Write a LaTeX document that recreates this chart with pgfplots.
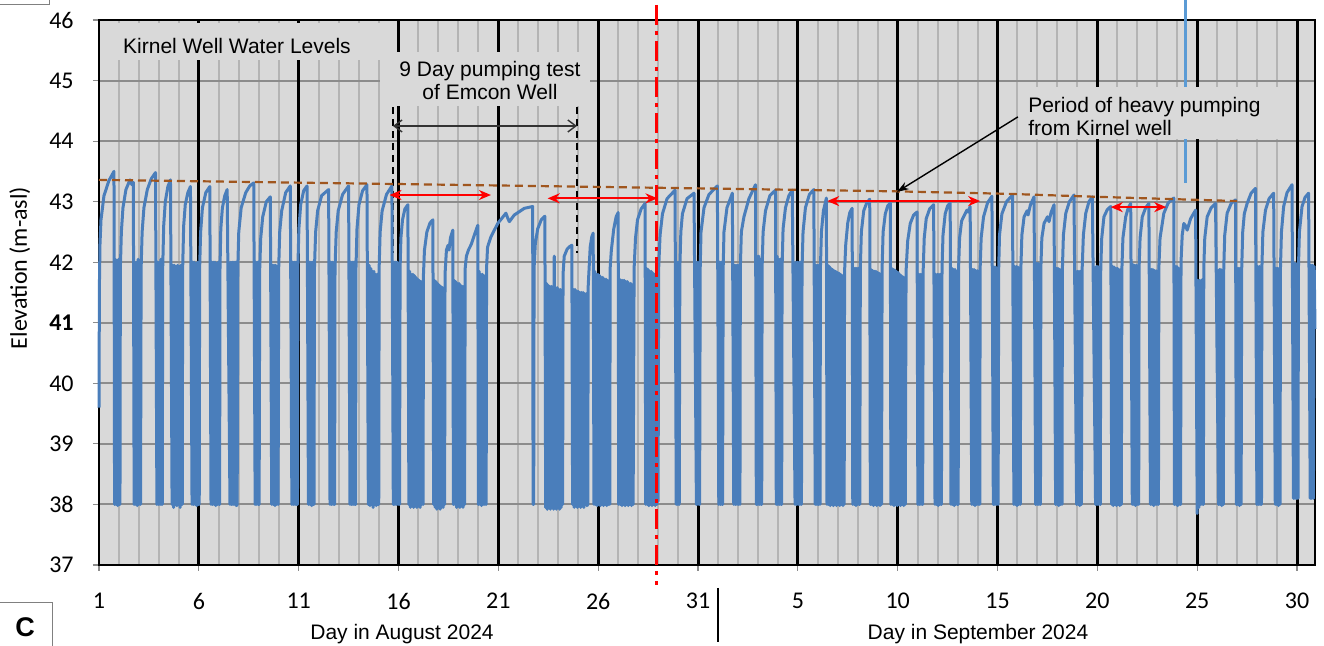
\documentclass[border=0pt]{standalone}
\usepackage{fontspec}
\setmainfont{Liberation Sans}
\newfontfamily\calfont{Carlito}
\usepackage{pgfplots}
\pgfplotsset{compat=1.18}
\usetikzlibrary{arrows.meta}
\definecolor{bgc}{HTML}{D9D9D9}
\definecolor{hgrid}{HTML}{8C8C8C}
\definecolor{vgrid}{HTML}{B4B4B4}
\definecolor{wblue}{HTML}{4A7EBB}
\definecolor{lblue}{HTML}{5B9BD5}
\definecolor{trend}{HTML}{A0561E}
\begin{document}
\begin{tikzpicture}
\path[use as bounding box] (0,0) rectangle (662pt,323pt);
\begin{axis}[
  at={(49.5pt,40.5pt)}, anchor=south west,
  scale only axis, width=608pt, height=272.5pt,
  xmin=1, xmax=61.9, ymin=37, ymax=46,
  axis background/.style={fill=bgc},
  axis line style={black, line width=1.2pt},
  xtick={1,6,...,61},
  xticklabels={1,6,11,16,21,26,31,5,10,15,20,25,30},
  ytick={37,...,46},
  yticklabels={37,38,39,40,\textbf{41},42,43,44,45,46},
  minor x tick num=4,
  xminorgrids=true, ymajorgrids=true,
  minor grid style={vgrid, line width=1pt},
  major grid style={hgrid, line width=1pt},
  extra x ticks={6,11,...,61},
  extra x tick labels={},
  extra x tick style={grid=major, major grid style={black, line width=1.5pt}, major tick length=0pt},
  tick align=outside, tick pos=left,
  major tick length=3pt, minor tick length=0pt,
  tick style={hgrid, line width=0.6pt},
  ticklabel style={font=\calfont\fontsize{12}{14}\selectfont, inner sep=0pt},
  /pgf/number format/assume math mode=true,
  xticklabel style={anchor=north, yshift=-11pt},
  yticklabel style={anchor=east, xshift=-9.5pt},
  clip=false,
]
% light blue marker line (behind box)
\addplot[lblue, line width=1.5pt] coordinates {(55.43,46.33) (55.43,43.31)};
% text boxes
\fill[bgc] (axis cs:1.05,45.95) rectangle (axis cs:15.22,45.34);
\node[anchor=base, font=\fontsize{10.5}{12.6}\selectfont, inner sep=0pt] at (axis cs:7.91,45.455) {Kirnel Well Water Levels};
\fill[bgc] (axis cs:15.07,45.47) rectangle (axis cs:25.59,44.58);
\node[anchor=base, font=\fontsize{10.5}{12.6}\selectfont, inner sep=0pt] at (axis cs:20.58,45.06) {9 Day pumping test};
\node[anchor=base, font=\fontsize{10.5}{12.6}\selectfont, inner sep=0pt] at (axis cs:20.58,44.68) {of Emcon Well};
\fill[bgc] (axis cs:47.22,44.89) rectangle (axis cs:60.54,44.03);
\node[anchor=base west, font=\fontsize{10.5}{12.6}\selectfont, inner sep=0pt] at (axis cs:47.52,44.48) {Period of heavy pumping};
\node[anchor=base west, font=\fontsize{10.5}{12.6}\selectfont, inner sep=0pt] at (axis cs:47.52,44.10) {from Kirnel well};
% dashed test limits
\addplot[black, line width=0.75pt, dash pattern=on 3.5pt off 2.5pt] coordinates {(15.72,44.56) (15.72,42.15)};
\addplot[black, line width=0.75pt, dash pattern=on 3.5pt off 2.5pt] coordinates {(24.94,44.56) (24.94,42.15)};
% water level
\addplot[wblue, line width=1.5pt, line join=round] coordinates {
(1.00,39.6) (1.02,41.6) (1.05,42.3) (1.10,42.7) (1.25,43.1) (1.50,43.35) (1.75,43.5)
(1.78,38.0) (1.82,42.05) (1.86,38.0) (1.90,42.0) (1.94,37.98) (1.98,42.05) (2.02,38.0) (2.05,38.0) (2.07,41.9) (2.12,42.5) (2.2,42.9) (2.35,43.2) (2.55,43.36) (2.65,43.28) (2.72,43.32)
(2.76,38.0) (2.80,42.0) (2.84,38.0) (2.88,42.0) (2.92,37.98) (2.96,42.05) (3.00,38.0) (3.04,42.0) (3.08,38.0) (3.11,41.9) (3.16,42.5) (3.25,42.9) (3.42,43.2) (3.62,43.38) (3.83,43.48)
(3.90,38.0) (3.94,42.0) (3.98,38.0) (4.02,42.0) (4.06,38.0) (4.10,42.05) (4.14,38.0) (4.17,38.0) (4.19,41.9) (4.24,42.6) (4.32,43.0) (4.45,43.25) (4.58,43.36)
(4.66,38.0) (4.70,41.95) (4.74,37.95) (4.78,41.95) (4.82,38.0) (4.86,41.9) (4.90,37.98) (4.94,41.95) (4.98,38.0) (5.02,41.9) (5.06,37.95) (5.10,41.95) (5.14,38.0) (5.17,38.0) (5.19,41.9) (5.24,42.6) (5.32,42.95) (5.45,43.15) (5.58,43.25)
(5.66,38.0) (5.70,42.0) (5.74,38.0) (5.78,42.0) (5.82,38.0) (5.86,41.95) (5.90,37.98) (5.94,42.0) (5.98,38.0) (6.02,38.0) (6.04,41.9) (6.09,42.5) (6.18,42.9) (6.35,43.15) (6.55,43.25)
(6.61,38.0) (6.65,42.0) (6.69,38.0) (6.73,42.0) (6.77,38.0) (6.81,42.0) (6.85,37.98) (6.89,41.95) (6.93,38.0) (6.97,42.0) (7.01,38.0) (7.04,38.0) (7.06,41.9) (7.10,42.55) (7.18,42.9) (7.30,43.1) (7.42,43.2)
(7.56,38.0) (7.60,42.0) (7.64,38.0) (7.68,42.0) (7.72,38.0) (7.76,42.0) (7.80,38.0) (7.84,42.0) (7.88,37.98) (7.92,38.0) (7.95,41.9) (8.0,42.5) (8.12,42.9) (8.35,43.15) (8.55,43.26) (8.75,43.31)
(8.82,38.0) (8.86,42.0) (8.90,38.0) (8.94,42.0) (8.98,38.0) (9.02,38.0) (9.05,41.9) (9.10,42.4) (9.20,42.75) (9.38,43.0) (9.58,43.08)
(9.65,38.0) (9.69,41.95) (9.73,38.0) (9.77,41.95) (9.81,37.98) (9.85,41.95) (9.89,38.0) (9.93,41.9) (9.97,38.0) (10.0,41.9) (10.05,42.5) (10.15,42.85) (10.35,43.15) (10.58,43.26)
(10.66,38.0) (10.70,42.0) (10.74,38.0) (10.78,42.0) (10.82,38.0) (10.86,42.0) (10.90,38.0) (10.94,38.0) (10.96,41.9) (11.01,42.55) (11.1,42.95) (11.25,43.18) (11.42,43.26)
(11.49,38.0) (11.53,42.0) (11.57,38.0) (11.61,42.0) (11.65,37.98) (11.69,42.0) (11.73,38.0) (11.77,38.0) (11.79,41.9) (11.85,42.5) (11.95,42.85) (12.15,43.1) (12.5,43.2)
(12.57,38.0) (12.61,42.0) (12.65,38.0) (12.69,42.0) (12.73,38.0) (12.77,41.95) (12.80,38.0) (12.82,41.9) (12.88,42.5) (12.98,42.85) (13.2,43.12) (13.5,43.26)
(13.57,38.0) (13.61,42.0) (13.65,38.0) (13.69,42.0) (13.73,38.0) (13.77,42.0) (13.81,38.0) (13.85,38.0) (13.87,41.9) (13.92,42.55) (14.02,42.95) (14.2,43.18) (14.42,43.28)
(14.49,38.0) (14.53,41.95) (14.57,37.98) (14.61,41.9) (14.65,38.0) (14.69,41.85) (14.73,37.95) (14.77,41.85) (14.81,38.0) (14.85,41.8) (14.89,37.98) (14.93,41.8) (14.97,38.0) (15.01,38.0) (15.03,41.9) (15.08,42.5) (15.18,42.85) (15.4,43.12) (15.67,43.26)
(15.74,38.0) (15.78,42.0) (15.82,38.0) (15.86,42.0) (15.90,38.0) (15.94,42.0) (15.98,38.0) (16.02,41.95) (16.05,38.0) (16.08,41.9) (16.12,42.4) (16.2,42.7) (16.32,42.88) (16.47,42.95)
(16.52,38.0) (16.56,41.85) (16.60,37.95) (16.64,41.8) (16.68,38.0) (16.72,41.8) (16.76,37.95) (16.80,41.78) (16.84,38.0) (16.88,41.75) (16.92,37.95) (16.96,41.72) (17.00,38.0) (17.04,41.7) (17.08,37.95) (17.12,41.68) (17.16,38.0) (17.20,41.65) (17.23,38.0) (17.25,41.8) (17.3,42.2) (17.42,42.5) (17.58,42.65) (17.72,42.7)
(17.76,38.0) (17.80,41.7) (17.84,37.95) (17.88,41.68) (17.92,37.92) (17.96,41.65) (18.00,37.95) (18.04,41.62) (18.08,37.92) (18.12,41.6) (18.16,37.95) (18.20,41.58) (18.24,37.95) (18.28,41.55) (18.31,38.0) (18.33,41.8) (18.4,42.2) (18.48,42.28) (18.53,42.2) (18.6,42.4) (18.72,42.53)
(18.75,38.0) (18.79,41.7) (18.83,38.0) (18.87,41.68) (18.91,37.95) (18.95,41.65) (18.99,38.0) (19.03,41.65) (19.07,37.95) (19.11,41.62) (19.15,38.0) (19.19,41.6) (19.23,37.95) (19.27,41.6) (19.31,38.0) (19.34,41.9) (19.4,42.1) (19.5,42.2) (19.65,42.3) (19.8,42.45) (19.97,42.61)
(20.00,38.0) (20.04,41.85) (20.08,38.0) (20.12,41.8) (20.16,37.98) (20.20,41.8) (20.24,38.0) (20.28,41.78) (20.32,38.0) (20.36,41.75) (20.39,38.0) (20.41,41.9) (20.46,42.25) (20.63,42.42) (20.97,42.64) (21.38,42.81) (21.48,42.72) (21.55,42.67) (21.8,42.78) (22.3,42.89) (22.72,42.92)
(22.74,38.0) (22.77,38.0) (22.79,41.9) (22.85,42.3) (22.97,42.55) (23.15,42.7) (23.33,42.76)
(23.37,37.95) (23.41,41.65) (23.45,37.92) (23.49,41.62) (23.53,37.95) (23.57,41.6) (23.61,37.92) (23.65,41.6) (23.69,37.95) (23.73,41.6) (23.77,37.92) (23.80,42.1) (23.83,37.95) (23.87,41.58) (23.91,37.92) (23.95,41.58) (23.99,37.95) (24.03,41.55) (24.07,37.92) (24.11,41.55) (24.15,37.95) (24.19,41.5) (24.22,38.0) (24.24,41.8) (24.3,42.1) (24.45,42.22) (24.58,42.26) (24.68,42.28)
(24.72,38.0) (24.76,41.55) (24.80,37.95) (24.84,41.55) (24.88,38.0) (24.92,41.52) (24.96,37.95) (25.00,41.52) (25.04,38.0) (25.08,41.5) (25.12,37.95) (25.16,41.5) (25.20,38.0) (25.24,41.5) (25.28,37.95) (25.32,41.48) (25.36,38.0) (25.40,41.48) (25.44,37.98) (25.48,38.0) (25.50,41.6) (25.6,42.25) (25.68,42.42) (25.75,42.48)
(25.79,38.0) (25.83,41.85) (25.87,38.0) (25.91,41.8) (25.95,37.98) (25.99,41.8) (26.03,38.0) (26.07,41.78) (26.11,37.98) (26.15,41.75) (26.19,38.0) (26.23,41.75) (26.27,37.98) (26.31,41.72) (26.35,38.0) (26.39,41.72) (26.43,37.98) (26.47,41.7) (26.51,38.0) (26.55,41.7) (26.58,38.0) (26.6,41.9) (26.66,42.2) (26.78,42.55) (26.9,42.75) (27.0,42.82)
(27.03,38.0) (27.07,41.72) (27.11,38.0) (27.15,41.7) (27.19,37.98) (27.23,41.7) (27.27,38.0) (27.31,41.7) (27.35,37.98) (27.39,41.68) (27.43,38.0) (27.47,41.68) (27.51,37.98) (27.55,41.65) (27.59,38.0) (27.63,41.65) (27.67,37.98) (27.71,41.62) (27.75,38.0) (27.8,41.9) (27.87,42.4) (27.97,42.7) (28.15,42.88) (28.35,42.97)
(28.38,38.0) (28.42,41.9) (28.46,38.0) (28.50,41.88) (28.54,37.98) (28.58,41.85) (28.62,38.0) (28.66,41.85) (28.70,37.98) (28.74,41.82) (28.78,38.0) (28.82,41.8) (28.86,37.98) (28.90,41.78) (28.94,38.0) (28.97,41.75) (29.0,38.05) (29.03,41.9) (29.1,42.45) (29.22,42.8) (29.45,43.05) (29.85,43.19)
(29.91,38.0) (29.95,42.0) (29.99,38.0) (30.03,42.0) (30.06,38.0) (30.09,41.9) (30.14,42.5) (30.22,42.8) (30.45,43.05) (30.8,43.14)
(30.92,38.0) (30.96,42.0) (31.00,38.0) (31.04,42.0) (31.08,38.0) (31.11,41.9) (31.15,42.5) (31.3,42.9) (31.55,43.12) (31.97,43.26)
(32.04,38.0) (32.08,42.0) (32.12,38.0) (32.16,42.0) (32.20,38.0) (32.23,38.0) (32.26,41.9) (32.3,42.5) (32.45,42.9) (32.72,43.14)
(32.79,38.0) (32.83,41.95) (32.87,38.0) (32.91,41.95) (32.95,38.0) (32.99,41.95) (33.03,38.0) (33.07,41.9) (33.10,38.0) (33.12,41.9) (33.17,42.5) (33.3,42.75) (33.55,43.05) (33.88,43.28)
(33.92,38.0) (33.96,42.1) (34.00,38.0) (34.04,42.1) (34.08,38.0) (34.12,42.05) (34.16,38.0) (34.19,38.0) (34.21,41.9) (34.26,42.5) (34.38,42.85) (34.6,43.1) (34.88,43.19)
(34.92,38.0) (34.96,42.1) (35.00,38.0) (35.04,42.05) (35.08,38.0) (35.12,42.05) (35.16,38.0) (35.19,38.0) (35.21,41.9) (35.26,42.55) (35.38,42.9) (35.55,43.1) (35.72,43.19)
(35.86,38.0) (35.90,42.0) (35.94,38.0) (35.98,42.0) (36.02,38.0) (36.06,42.0) (36.10,38.0) (36.14,42.0) (36.18,38.0) (36.21,41.9) (36.26,42.5) (36.38,42.9) (36.58,43.12) (36.8,43.2)
(36.87,38.0) (36.91,41.95) (36.95,38.0) (36.99,41.95) (37.03,38.0) (37.07,41.95) (37.11,38.0) (37.13,41.9) (37.18,42.5) (37.28,42.85) (37.43,43.06)
(37.46,38.0) (37.50,41.95) (37.54,38.0) (37.58,41.93) (37.62,37.98) (37.66,41.9) (37.70,38.0) (37.74,41.88) (37.78,37.98) (37.82,41.86) (37.86,38.0) (37.90,41.85) (37.94,37.98) (37.98,41.83) (38.02,38.0) (38.06,41.82) (38.10,37.98) (38.14,41.8) (38.18,38.0) (38.22,41.78) (38.26,37.98) (38.30,41.76) (38.32,38.0) (38.34,41.85) (38.4,42.3) (38.5,42.65) (38.6,42.82) (38.72,42.89)
(38.75,38.0) (38.79,41.9) (38.83,38.0) (38.87,41.9) (38.91,37.98) (38.95,41.9) (38.99,38.0) (39.03,41.9) (39.07,38.0) (39.10,38.0) (39.13,41.9) (39.18,42.5) (39.3,42.85) (39.45,42.98) (39.6,43.04)
(39.63,38.0) (39.67,41.88) (39.71,38.0) (39.75,41.86) (39.79,37.98) (39.83,41.85) (39.87,38.0) (39.91,41.85) (39.95,37.98) (39.99,41.83) (40.03,38.0) (40.07,41.82) (40.11,37.98) (40.15,41.8) (40.19,38.0) (40.22,41.9) (40.27,42.5) (40.38,42.8) (40.5,42.93) (40.63,42.98)
(40.66,38.0) (40.70,41.9) (40.74,38.0) (40.78,41.88) (40.82,37.98) (40.86,41.87) (40.90,38.0) (40.94,41.85) (40.98,37.98) (41.02,41.83) (41.06,38.0) (41.10,41.8) (41.14,37.98) (41.18,41.78) (41.22,38.0) (41.26,41.76) (41.30,37.98) (41.34,41.74) (41.38,38.0) (41.42,41.85) (41.5,42.35) (41.63,42.64) (41.8,42.78) (41.97,42.83)
(42.01,38.0) (42.05,41.8) (42.09,38.0) (42.13,41.8) (42.17,38.0) (42.21,41.8) (42.25,38.0) (42.28,41.9) (42.33,42.4) (42.43,42.72) (42.6,42.88) (42.8,42.95)
(42.87,38.0) (42.91,41.8) (42.95,38.0) (42.99,41.8) (43.03,37.98) (43.07,41.8) (43.11,38.0) (43.15,41.8) (43.19,38.0) (43.22,41.9) (43.27,42.45) (43.38,42.8) (43.5,42.93) (43.63,42.98)
(43.67,38.0) (43.71,41.9) (43.75,38.0) (43.79,41.88) (43.83,37.98) (43.87,41.88) (43.91,38.0) (43.95,41.85) (43.99,38.0) (44.03,38.0) (44.05,41.9) (44.1,42.4) (44.2,42.68) (44.3,42.75) (44.47,42.86) (44.52,42.83) (44.63,42.92)
(44.71,38.0) (44.75,41.88) (44.79,38.0) (44.83,41.88) (44.87,37.98) (44.91,41.86) (44.95,38.0) (44.99,41.86) (45.03,38.0) (45.07,41.85) (45.11,38.0) (45.13,41.9) (45.18,42.4) (45.3,42.75) (45.5,42.98) (45.72,43.09)
(45.79,38.0) (45.83,41.92) (45.87,38.0) (45.91,41.92) (45.95,38.0) (45.99,41.9) (46.03,38.0) (46.06,41.9) (46.1,42.45) (46.22,42.8) (46.45,43.0) (46.75,43.11)
(46.82,38.0) (46.86,41.93) (46.90,38.0) (46.94,41.93) (46.98,37.98) (47.02,41.92) (47.06,38.0) (47.10,41.9) (47.14,38.0) (47.17,41.9) (47.22,42.45) (47.33,42.75) (47.48,42.85) (47.53,42.78) (47.65,42.95) (47.83,43.08)
(47.91,38.0) (47.95,41.98) (47.99,38.0) (48.03,41.98) (48.07,38.0) (48.11,41.95) (48.15,38.0) (48.17,41.9) (48.22,42.4) (48.33,42.64) (48.5,42.75) (48.58,42.67) (48.68,42.82) (48.83,42.95)
(48.91,38.0) (48.95,41.9) (48.99,38.0) (49.03,41.9) (49.07,37.98) (49.11,41.88) (49.15,38.0) (49.19,41.88) (49.23,38.0) (49.25,41.9) (49.3,42.45) (49.42,42.81) (49.6,43.0) (49.83,43.11)
(49.96,38.0) (50.00,41.85) (50.04,38.0) (50.08,41.85) (50.12,37.98) (50.16,41.85) (50.20,38.0) (50.24,41.9) (50.3,42.45) (50.42,42.81) (50.58,43.0) (50.75,43.08)
(50.91,38.0) (50.95,41.93) (50.99,38.0) (51.03,41.93) (51.07,38.0) (51.11,41.9) (51.15,38.0) (51.17,41.9) (51.22,42.4) (51.33,42.75) (51.5,42.87) (51.67,42.92)
(51.72,38.0) (51.76,41.93) (51.80,37.98) (51.84,41.92) (51.88,38.0) (51.92,41.9) (51.96,37.98) (52.00,41.9) (52.04,38.0) (52.08,41.88) (52.12,37.98) (52.16,41.88) (52.20,38.0) (52.23,41.9) (52.28,42.4) (52.42,42.75) (52.55,42.9) (52.67,42.97)
(52.75,38.0) (52.79,41.96) (52.83,38.0) (52.87,41.95) (52.91,37.98) (52.95,41.95) (52.99,38.0) (53.03,41.93) (53.07,38.0) (53.09,41.9) (53.14,42.4) (53.25,42.75) (53.42,42.9) (53.58,42.97)
(53.66,38.0) (53.70,41.88) (53.74,38.0) (53.78,41.88) (53.82,37.98) (53.86,41.86) (53.90,38.0) (53.94,41.86) (53.98,38.0) (54.02,41.85) (54.06,38.0) (54.08,41.9) (54.14,42.4) (54.33,42.81) (54.55,42.98) (54.83,43.06)
(54.86,38.0) (54.90,41.93) (54.94,38.0) (54.98,41.93) (55.02,37.98) (55.06,41.9) (55.10,38.0) (55.14,41.9) (55.17,38.0) (55.19,42.0) (55.25,42.45) (55.33,42.64) (55.42,42.6) (55.5,42.53) (55.67,42.72) (55.92,42.86)
(56.00,37.85) (56.04,41.7) (56.08,37.95) (56.12,41.7) (56.16,38.0) (56.20,41.7) (56.24,38.0) (56.28,41.72) (56.31,38.0) (56.33,41.9) (56.38,42.4) (56.5,42.75) (56.7,42.9) (56.92,42.97)
(57.07,38.0) (57.11,41.88) (57.15,38.0) (57.19,41.88) (57.23,37.98) (57.27,41.86) (57.31,38.0) (57.33,41.9) (57.38,42.45) (57.5,42.81) (57.7,42.97) (57.92,43.03)
(57.96,38.0) (58.00,41.9) (58.04,38.0) (58.08,41.9) (58.12,37.98) (58.16,41.9) (58.20,38.0) (58.23,41.9) (58.28,42.5) (58.36,42.8) (58.5,42.97) (58.7,43.14) (58.92,43.22)
(58.99,38.0) (59.03,41.93) (59.07,38.0) (59.11,41.93) (59.15,38.0) (59.19,41.9) (59.22,38.0) (59.24,41.9) (59.29,42.5) (59.42,42.86) (59.6,43.05) (59.83,43.14)
(59.91,38.0) (59.95,41.9) (59.99,38.0) (60.03,41.9) (60.07,37.98) (60.11,41.88) (60.15,38.0) (60.17,41.9) (60.22,42.5) (60.33,42.92) (60.5,43.15) (60.75,43.28)
(60.82,38.1) (60.86,41.98) (60.90,38.1) (60.94,41.98) (60.98,38.1) (61.02,41.95) (61.05,38.1) (61.07,41.9) (61.12,42.5) (61.25,42.92) (61.4,43.07) (61.58,43.14)
(61.66,38.1) (61.70,41.95) (61.74,38.1) (61.78,41.95) (61.82,38.1) (61.86,41.93) (61.9,40.9)
};
% trend line
\addplot[trend, line width=1.1pt, dash pattern=on 4pt off 2.5pt] coordinates {(1,43.36) (16.25,43.29) (30.97,43.22) (40.97,43.17) (46.47,43.13) (51,43.08) (56,43.03) (58,43.01)};
% red arrows
\draw[red, line width=1pt, {Stealth[length=6pt,width=5pt]}-{Stealth[length=6pt,width=5pt]}] (axis cs:15.55,43.11) -- (axis cs:20.63,43.11);
\draw[red, line width=1pt, {Stealth[length=6pt,width=5pt]}-{Stealth[length=6pt,width=5pt]}] (axis cs:23.47,43.055) -- (axis cs:28.97,43.055);
\draw[red, line width=1pt, {Stealth[length=6pt,width=5pt]}-{Stealth[length=6pt,width=5pt]}] (axis cs:37.47,43.01) -- (axis cs:45.13,43.01);
\draw[red, line width=1pt, {Stealth[length=6pt,width=5pt]}-{Stealth[length=6pt,width=5pt]}] (axis cs:51.67,42.91) -- (axis cs:54.45,42.91);
% black arrows
\draw[black!80, line width=0.7pt, {Straight Barb[length=4pt,width=6pt]}-{Straight Barb[length=4pt,width=6pt]}] (axis cs:15.72,44.25) -- (axis cs:24.94,44.25);
\draw[black, line width=0.7pt, -{Stealth[length=6pt,width=4pt]}] (axis cs:47.02,44.40) -- (axis cs:40.96,43.16);
% red dash-dot line
\addplot[red, line width=1.5pt, dash pattern=on 10pt off 3pt on 2pt off 3pt] coordinates {(28.94,46.25) (28.94,36.67)};
\end{axis}
% outside texts
\node[rotate=90, anchor=base, font=\calfont\fontsize{12}{14}\selectfont, inner sep=0pt] at (13.5pt,189pt) {Elevation (m-asl)};
\node[anchor=base, font=\fontsize{10.5}{12.6}\selectfont, inner sep=0pt] at (201pt,3pt) {Day in August 2024};
\node[anchor=base, font=\fontsize{10.5}{12.6}\selectfont, inner sep=0pt] at (489pt,3pt) {Day in September 2024};
\draw[black, line width=0.6pt] (359pt,29pt) -- (359pt,2pt);
\draw[gray, line width=0.5pt] (0,21.5pt) -- (26pt,21.5pt) -- (26pt,0);
\draw[gray, line width=0.5pt] (0,320.5pt) -- (24.5pt,320.5pt) -- (24.5pt,323pt);
\node[anchor=base, inner sep=0pt] at (12.5pt,4.5pt) {\fontsize{13.5}{16}\selectfont\textbf{C}};
\end{tikzpicture}
\end{document}
